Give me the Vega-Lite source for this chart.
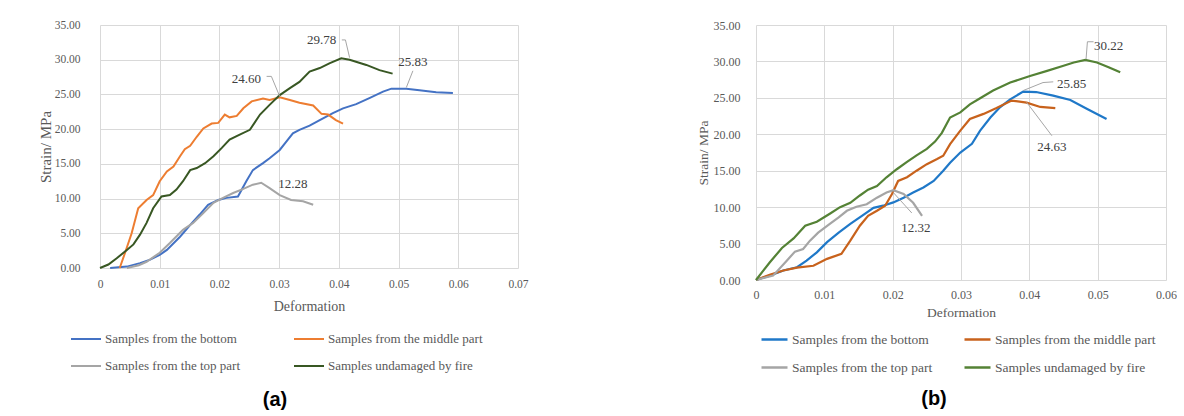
{
  "$schema": "https://vega.github.io/schema/vega-lite/v6.json",
  "background": "white",
  "padding": {"left": 38, "top": 19, "right": 0, "bottom": 0},
  "spacing": 238,
  "bounds": "flush",
  "config": {
    "font": "Liberation Serif",
    "view": {"stroke": null},
    "axis": {"gridColor": "#d9d9d9", "gridWidth": 1, "domain": false, "ticks": false, "labelColor": "#595959", "titleColor": "#595959", "labelFont": "Liberation Serif", "titleFont": "Liberation Serif", "titleFontWeight": "normal", "labelFlush": false, "labelOverlap": false},
    "legend": {"labelFont": "Liberation Serif", "labelColor": "#595959", "symbolType": "stroke", "title": null, "labelLimit": 400, "columns": 2, "direction": "horizontal", "orient": "none"}
  },
  "resolve": {"scale": {"color": "independent"}, "legend": {"color": "independent"}},
  "datasets": {
    "a": [
      {"s": "Samples from the bottom", "d": 0.0017, "v": 0}, {"s": "Samples from the bottom", "d": 0.0045, "v": 0.2}, {"s": "Samples from the bottom", "d": 0.0067, "v": 0.7}, {"s": "Samples from the bottom", "d": 0.0084, "v": 1.2}, {"s": "Samples from the bottom", "d": 0.01, "v": 1.9}, {"s": "Samples from the bottom", "d": 0.0112, "v": 2.6}, {"s": "Samples from the bottom", "d": 0.0134, "v": 4.5}, {"s": "Samples from the bottom", "d": 0.0153, "v": 6.4}, {"s": "Samples from the bottom", "d": 0.0167, "v": 7.7}, {"s": "Samples from the bottom", "d": 0.0181, "v": 9.1}, {"s": "Samples from the bottom", "d": 0.0198, "v": 9.8}, {"s": "Samples from the bottom", "d": 0.0212, "v": 10.1}, {"s": "Samples from the bottom", "d": 0.0231, "v": 10.3}, {"s": "Samples from the bottom", "d": 0.0245, "v": 12.5}, {"s": "Samples from the bottom", "d": 0.0256, "v": 14.1}, {"s": "Samples from the bottom", "d": 0.0273, "v": 15.1}, {"s": "Samples from the bottom", "d": 0.0284, "v": 15.8}, {"s": "Samples from the bottom", "d": 0.0301, "v": 17.0}, {"s": "Samples from the bottom", "d": 0.0312, "v": 18.2}, {"s": "Samples from the bottom", "d": 0.0323, "v": 19.4}, {"s": "Samples from the bottom", "d": 0.0334, "v": 19.9}, {"s": "Samples from the bottom", "d": 0.0351, "v": 20.5}, {"s": "Samples from the bottom", "d": 0.0368, "v": 21.3}, {"s": "Samples from the bottom", "d": 0.039, "v": 22.3}, {"s": "Samples from the bottom", "d": 0.0407, "v": 23.0}, {"s": "Samples from the bottom", "d": 0.0429, "v": 23.6}, {"s": "Samples from the bottom", "d": 0.0452, "v": 24.5}, {"s": "Samples from the bottom", "d": 0.0474, "v": 25.4}, {"s": "Samples from the bottom", "d": 0.0488, "v": 25.83}, {"s": "Samples from the bottom", "d": 0.0513, "v": 25.83}, {"s": "Samples from the bottom", "d": 0.0535, "v": 25.6}, {"s": "Samples from the bottom", "d": 0.0563, "v": 25.3}, {"s": "Samples from the bottom", "d": 0.0591, "v": 25.2},
      {"s": "Samples from the middle part", "d": 0.0033, "v": 0}, {"s": "Samples from the middle part", "d": 0.0042, "v": 2.2}, {"s": "Samples from the middle part", "d": 0.0053, "v": 5.0}, {"s": "Samples from the middle part", "d": 0.0064, "v": 8.6}, {"s": "Samples from the middle part", "d": 0.0078, "v": 9.8}, {"s": "Samples from the middle part", "d": 0.0089, "v": 10.5}, {"s": "Samples from the middle part", "d": 0.01, "v": 12.5}, {"s": "Samples from the middle part", "d": 0.0112, "v": 13.9}, {"s": "Samples from the middle part", "d": 0.0123, "v": 14.6}, {"s": "Samples from the middle part", "d": 0.0134, "v": 16.1}, {"s": "Samples from the middle part", "d": 0.0142, "v": 17.1}, {"s": "Samples from the middle part", "d": 0.0151, "v": 17.6}, {"s": "Samples from the middle part", "d": 0.0162, "v": 18.9}, {"s": "Samples from the middle part", "d": 0.0173, "v": 20.1}, {"s": "Samples from the middle part", "d": 0.0187, "v": 20.8}, {"s": "Samples from the middle part", "d": 0.0198, "v": 20.9}, {"s": "Samples from the middle part", "d": 0.0209, "v": 22.1}, {"s": "Samples from the middle part", "d": 0.0217, "v": 21.7}, {"s": "Samples from the middle part", "d": 0.0229, "v": 21.9}, {"s": "Samples from the middle part", "d": 0.024, "v": 23.0}, {"s": "Samples from the middle part", "d": 0.0254, "v": 24.0}, {"s": "Samples from the middle part", "d": 0.0273, "v": 24.4}, {"s": "Samples from the middle part", "d": 0.0284, "v": 24.2}, {"s": "Samples from the middle part", "d": 0.0301, "v": 24.6}, {"s": "Samples from the middle part", "d": 0.0318, "v": 24.2}, {"s": "Samples from the middle part", "d": 0.0334, "v": 23.8}, {"s": "Samples from the middle part", "d": 0.0357, "v": 23.4}, {"s": "Samples from the middle part", "d": 0.0371, "v": 22.2}, {"s": "Samples from the middle part", "d": 0.0382, "v": 22.1}, {"s": "Samples from the middle part", "d": 0.0395, "v": 21.3}, {"s": "Samples from the middle part", "d": 0.0407, "v": 20.8},
      {"s": "Samples from the top part", "d": 0.0045, "v": 0}, {"s": "Samples from the top part", "d": 0.0065, "v": 0.4}, {"s": "Samples from the top part", "d": 0.0078, "v": 0.9}, {"s": "Samples from the top part", "d": 0.01, "v": 2.2}, {"s": "Samples from the top part", "d": 0.0117, "v": 3.6}, {"s": "Samples from the top part", "d": 0.0139, "v": 5.5}, {"s": "Samples from the top part", "d": 0.0156, "v": 6.5}, {"s": "Samples from the top part", "d": 0.0173, "v": 7.9}, {"s": "Samples from the top part", "d": 0.019, "v": 9.4}, {"s": "Samples from the top part", "d": 0.0206, "v": 10.1}, {"s": "Samples from the top part", "d": 0.0223, "v": 10.8}, {"s": "Samples from the top part", "d": 0.024, "v": 11.4}, {"s": "Samples from the top part", "d": 0.0256, "v": 12.0}, {"s": "Samples from the top part", "d": 0.027, "v": 12.28}, {"s": "Samples from the top part", "d": 0.0284, "v": 11.5}, {"s": "Samples from the top part", "d": 0.0301, "v": 10.5}, {"s": "Samples from the top part", "d": 0.032, "v": 9.8}, {"s": "Samples from the top part", "d": 0.034, "v": 9.6}, {"s": "Samples from the top part", "d": 0.0357, "v": 9.1},
      {"s": "Samples undamaged by fire", "d": 0, "v": 0}, {"s": "Samples undamaged by fire", "d": 0.0014, "v": 0.5}, {"s": "Samples undamaged by fire", "d": 0.0028, "v": 1.4}, {"s": "Samples undamaged by fire", "d": 0.0045, "v": 2.6}, {"s": "Samples undamaged by fire", "d": 0.0056, "v": 3.4}, {"s": "Samples undamaged by fire", "d": 0.0067, "v": 4.8}, {"s": "Samples undamaged by fire", "d": 0.0078, "v": 6.5}, {"s": "Samples undamaged by fire", "d": 0.0089, "v": 8.6}, {"s": "Samples undamaged by fire", "d": 0.0103, "v": 10.3}, {"s": "Samples undamaged by fire", "d": 0.0117, "v": 10.5}, {"s": "Samples undamaged by fire", "d": 0.0128, "v": 11.3}, {"s": "Samples undamaged by fire", "d": 0.0139, "v": 12.5}, {"s": "Samples undamaged by fire", "d": 0.0151, "v": 14.1}, {"s": "Samples undamaged by fire", "d": 0.0162, "v": 14.4}, {"s": "Samples undamaged by fire", "d": 0.0176, "v": 15.1}, {"s": "Samples undamaged by fire", "d": 0.019, "v": 16.1}, {"s": "Samples undamaged by fire", "d": 0.0204, "v": 17.3}, {"s": "Samples undamaged by fire", "d": 0.0217, "v": 18.5}, {"s": "Samples undamaged by fire", "d": 0.0234, "v": 19.2}, {"s": "Samples undamaged by fire", "d": 0.0251, "v": 19.9}, {"s": "Samples undamaged by fire", "d": 0.0268, "v": 22.1}, {"s": "Samples undamaged by fire", "d": 0.0284, "v": 23.5}, {"s": "Samples undamaged by fire", "d": 0.0301, "v": 24.9}, {"s": "Samples undamaged by fire", "d": 0.0318, "v": 25.9}, {"s": "Samples undamaged by fire", "d": 0.0334, "v": 26.8}, {"s": "Samples undamaged by fire", "d": 0.0351, "v": 28.3}, {"s": "Samples undamaged by fire", "d": 0.0368, "v": 28.8}, {"s": "Samples undamaged by fire", "d": 0.0385, "v": 29.5}, {"s": "Samples undamaged by fire", "d": 0.0404, "v": 30.2}, {"s": "Samples undamaged by fire", "d": 0.0418, "v": 30.0}, {"s": "Samples undamaged by fire", "d": 0.0446, "v": 29.25}, {"s": "Samples undamaged by fire", "d": 0.0468, "v": 28.5}, {"s": "Samples undamaged by fire", "d": 0.049, "v": 28.0}
    ],
    "aLabels": [
      {"t": "29.78", "d": 0.0371, "v": 32.85}, {"t": "24.60", "d": 0.0245, "v": 27.2}, {"t": "25.83", "d": 0.0524, "v": 29.7}, {"t": "12.28", "d": 0.0323, "v": 12.1}
    ],
    "aLeaders": [
      {"g": "29.78", "i": 1, "d": 0.0405, "v": 32.85}, {"g": "29.78", "i": 2, "d": 0.0411, "v": 32.85}, {"g": "29.78", "i": 3, "d": 0.0418, "v": 30.3},
      {"g": "24.60", "i": 1, "d": 0.0279, "v": 27.6}, {"g": "24.60", "i": 2, "d": 0.0287, "v": 27.6}, {"g": "24.60", "i": 3, "d": 0.0301, "v": 24.7},
      {"g": "25.83", "i": 1, "d": 0.0524, "v": 28.4}, {"g": "25.83", "i": 2, "d": 0.0513, "v": 26.0}
    ],
    "b": [
      {"s": "Samples from the bottom", "d": 0, "v": 0}, {"s": "Samples from the bottom", "d": 0.002, "v": 0.6}, {"s": "Samples from the bottom", "d": 0.004, "v": 1.3}, {"s": "Samples from the bottom", "d": 0.006, "v": 1.75}, {"s": "Samples from the bottom", "d": 0.0074, "v": 2.65}, {"s": "Samples from the bottom", "d": 0.0089, "v": 3.8}, {"s": "Samples from the bottom", "d": 0.0104, "v": 5.2}, {"s": "Samples from the bottom", "d": 0.0121, "v": 6.5}, {"s": "Samples from the bottom", "d": 0.0138, "v": 7.7}, {"s": "Samples from the bottom", "d": 0.0155, "v": 8.8}, {"s": "Samples from the bottom", "d": 0.0172, "v": 9.9}, {"s": "Samples from the bottom", "d": 0.0186, "v": 10.2}, {"s": "Samples from the bottom", "d": 0.0201, "v": 10.65}, {"s": "Samples from the bottom", "d": 0.0216, "v": 11.3}, {"s": "Samples from the bottom", "d": 0.023, "v": 12.0}, {"s": "Samples from the bottom", "d": 0.0245, "v": 12.7}, {"s": "Samples from the bottom", "d": 0.026, "v": 13.6}, {"s": "Samples from the bottom", "d": 0.0274, "v": 15.0}, {"s": "Samples from the bottom", "d": 0.0284, "v": 16.1}, {"s": "Samples from the bottom", "d": 0.0299, "v": 17.5}, {"s": "Samples from the bottom", "d": 0.0316, "v": 18.7}, {"s": "Samples from the bottom", "d": 0.0328, "v": 20.5}, {"s": "Samples from the bottom", "d": 0.0343, "v": 22.3}, {"s": "Samples from the bottom", "d": 0.0357, "v": 23.7}, {"s": "Samples from the bottom", "d": 0.0372, "v": 24.8}, {"s": "Samples from the bottom", "d": 0.0391, "v": 25.85}, {"s": "Samples from the bottom", "d": 0.041, "v": 25.8}, {"s": "Samples from the bottom", "d": 0.0435, "v": 25.3}, {"s": "Samples from the bottom", "d": 0.046, "v": 24.7}, {"s": "Samples from the bottom", "d": 0.0484, "v": 23.5}, {"s": "Samples from the bottom", "d": 0.0513, "v": 22.1},
      {"s": "Samples from the middle part", "d": 0, "v": 0}, {"s": "Samples from the middle part", "d": 0.002, "v": 0.7}, {"s": "Samples from the middle part", "d": 0.004, "v": 1.3}, {"s": "Samples from the middle part", "d": 0.006, "v": 1.7}, {"s": "Samples from the middle part", "d": 0.0084, "v": 1.95}, {"s": "Samples from the middle part", "d": 0.0104, "v": 2.9}, {"s": "Samples from the middle part", "d": 0.0125, "v": 3.6}, {"s": "Samples from the middle part", "d": 0.0138, "v": 5.4}, {"s": "Samples from the middle part", "d": 0.0152, "v": 7.45}, {"s": "Samples from the middle part", "d": 0.0164, "v": 8.8}, {"s": "Samples from the middle part", "d": 0.0177, "v": 9.5}, {"s": "Samples from the middle part", "d": 0.0189, "v": 10.2}, {"s": "Samples from the middle part", "d": 0.0199, "v": 11.8}, {"s": "Samples from the middle part", "d": 0.0208, "v": 13.6}, {"s": "Samples from the middle part", "d": 0.0221, "v": 14.1}, {"s": "Samples from the middle part", "d": 0.0235, "v": 15.0}, {"s": "Samples from the middle part", "d": 0.025, "v": 15.9}, {"s": "Samples from the middle part", "d": 0.0265, "v": 16.6}, {"s": "Samples from the middle part", "d": 0.0274, "v": 17.05}, {"s": "Samples from the middle part", "d": 0.0284, "v": 18.65}, {"s": "Samples from the middle part", "d": 0.0299, "v": 20.5}, {"s": "Samples from the middle part", "d": 0.0313, "v": 22.1}, {"s": "Samples from the middle part", "d": 0.0333, "v": 22.8}, {"s": "Samples from the middle part", "d": 0.0352, "v": 23.6}, {"s": "Samples from the middle part", "d": 0.0374, "v": 24.63}, {"s": "Samples from the middle part", "d": 0.0396, "v": 24.35}, {"s": "Samples from the middle part", "d": 0.0416, "v": 23.75}, {"s": "Samples from the middle part", "d": 0.0438, "v": 23.6},
      {"s": "Samples from the top part", "d": 0, "v": 0}, {"s": "Samples from the top part", "d": 0.0025, "v": 0.6}, {"s": "Samples from the top part", "d": 0.0045, "v": 2.65}, {"s": "Samples from the top part", "d": 0.0057, "v": 3.9}, {"s": "Samples from the top part", "d": 0.0069, "v": 4.25}, {"s": "Samples from the top part", "d": 0.0079, "v": 5.4}, {"s": "Samples from the top part", "d": 0.0091, "v": 6.5}, {"s": "Samples from the top part", "d": 0.0108, "v": 7.7}, {"s": "Samples from the top part", "d": 0.0121, "v": 8.6}, {"s": "Samples from the top part", "d": 0.0133, "v": 9.5}, {"s": "Samples from the top part", "d": 0.0147, "v": 10.05}, {"s": "Samples from the top part", "d": 0.0162, "v": 10.4}, {"s": "Samples from the top part", "d": 0.0177, "v": 11.3}, {"s": "Samples from the top part", "d": 0.0191, "v": 12.0}, {"s": "Samples from the top part", "d": 0.0201, "v": 12.32}, {"s": "Samples from the top part", "d": 0.0216, "v": 11.8}, {"s": "Samples from the top part", "d": 0.023, "v": 10.6}, {"s": "Samples from the top part", "d": 0.0243, "v": 8.8},
      {"s": "Samples undamaged by fire", "d": 0, "v": 0}, {"s": "Samples undamaged by fire", "d": 0.002, "v": 2.4}, {"s": "Samples undamaged by fire", "d": 0.0038, "v": 4.4}, {"s": "Samples undamaged by fire", "d": 0.0055, "v": 5.7}, {"s": "Samples undamaged by fire", "d": 0.0072, "v": 7.45}, {"s": "Samples undamaged by fire", "d": 0.0089, "v": 8.0}, {"s": "Samples undamaged by fire", "d": 0.0108, "v": 9.1}, {"s": "Samples undamaged by fire", "d": 0.0123, "v": 10.0}, {"s": "Samples undamaged by fire", "d": 0.0138, "v": 10.6}, {"s": "Samples undamaged by fire", "d": 0.0152, "v": 11.6}, {"s": "Samples undamaged by fire", "d": 0.0164, "v": 12.4}, {"s": "Samples undamaged by fire", "d": 0.0177, "v": 12.9}, {"s": "Samples undamaged by fire", "d": 0.0191, "v": 14.1}, {"s": "Samples undamaged by fire", "d": 0.0206, "v": 15.2}, {"s": "Samples undamaged by fire", "d": 0.0221, "v": 16.2}, {"s": "Samples undamaged by fire", "d": 0.0235, "v": 17.1}, {"s": "Samples undamaged by fire", "d": 0.025, "v": 18.0}, {"s": "Samples undamaged by fire", "d": 0.0262, "v": 19.0}, {"s": "Samples undamaged by fire", "d": 0.0272, "v": 20.2}, {"s": "Samples undamaged by fire", "d": 0.0284, "v": 22.3}, {"s": "Samples undamaged by fire", "d": 0.0299, "v": 23.0}, {"s": "Samples undamaged by fire", "d": 0.0313, "v": 24.1}, {"s": "Samples undamaged by fire", "d": 0.0328, "v": 24.95}, {"s": "Samples undamaged by fire", "d": 0.0347, "v": 26.0}, {"s": "Samples undamaged by fire", "d": 0.0372, "v": 27.1}, {"s": "Samples undamaged by fire", "d": 0.0401, "v": 28.0}, {"s": "Samples undamaged by fire", "d": 0.0426, "v": 28.7}, {"s": "Samples undamaged by fire", "d": 0.045, "v": 29.4}, {"s": "Samples undamaged by fire", "d": 0.0465, "v": 29.85}, {"s": "Samples undamaged by fire", "d": 0.0482, "v": 30.22}, {"s": "Samples undamaged by fire", "d": 0.0499, "v": 29.85}, {"s": "Samples undamaged by fire", "d": 0.0516, "v": 29.2}, {"s": "Samples undamaged by fire", "d": 0.0533, "v": 28.5}
    ],
    "bLabels": [
      {"t": "30.22", "d": 0.0516, "v": 32.1}, {"t": "25.85", "d": 0.0462, "v": 26.9}, {"t": "24.63", "d": 0.0433, "v": 18.2}, {"t": "12.32", "d": 0.0234, "v": 7.1}
    ],
    "bLeaders": [
      {"g": "30.22", "i": 1, "d": 0.0494, "v": 32.7}, {"g": "30.22", "i": 2, "d": 0.0485, "v": 32.7}, {"g": "30.22", "i": 3, "d": 0.0483, "v": 30.3},
      {"g": "25.85", "i": 1, "d": 0.0435, "v": 27.2}, {"g": "25.85", "i": 2, "d": 0.042, "v": 27.1}, {"g": "25.85", "i": 3, "d": 0.0391, "v": 26.0},
      {"g": "24.63", "i": 1, "d": 0.0433, "v": 19.8}, {"g": "24.63", "i": 2, "d": 0.0396, "v": 24.4},
      {"g": "12.32", "i": 1, "d": 0.0228, "v": 9.2}, {"g": "12.32", "i": 2, "d": 0.0201, "v": 12.0}
    ]
  },
  "hconcat": [
    {
      "width": 418,
      "height": 243,
      "title": {"text": "(a)", "orient": "bottom", "frame": "group", "anchor": "middle", "offset": 17, "dx": -34, "font": "Liberation Sans", "fontSize": 20, "fontWeight": "bold", "color": "black"},
      "encoding": {
        "x": {"field": "d", "type": "quantitative", "scale": {"domain": [0, 0.07], "nice": false}, "axis": {"values": [0, 0.01, 0.02, 0.03, 0.04, 0.05, 0.06, 0.07], "format": "~g", "title": "Deformation", "labelFontSize": 11.5, "labelPadding": 10, "titleFontSize": 14, "titlePadding": 10}},
        "y": {"field": "v", "type": "quantitative", "scale": {"domain": [0, 35], "nice": false}, "axis": {"values": [0, 5, 10, 15, 20, 25, 30, 35], "format": ".2f", "title": "Strain/ MPa", "labelFontSize": 11.5, "labelPadding": 20, "titleFontSize": 15, "titlePadding": 1}}
      },
      "layer": [
        {
          "data": {"name": "a"},
          "mark": {"type": "line", "strokeWidth": 2},
          "encoding": {
            "color": {"field": "s", "type": "nominal", "scale": {"domain": ["Samples from the bottom", "Samples from the middle part", "Samples from the top part", "Samples undamaged by fire"], "range": ["#4472C4", "#ED7D31", "#A5A5A5", "#385723"]}, "legend": {"legendX": -30, "legendY": 298, "symbolSize": 900, "symbolStrokeWidth": 2, "labelFontSize": 13, "labelOffset": 3, "columnPadding": 49, "rowPadding": 4}}
          }
        },
        {
          "data": {"name": "aLeaders"},
          "mark": {"type": "line", "color": "#a6a6a6", "strokeWidth": 1},
          "encoding": {"detail": {"field": "g"}, "order": {"field": "i"}}
        },
        {
          "data": {"name": "aLabels"},
          "mark": {"type": "text", "font": "Liberation Serif", "fontSize": 13, "color": "#404040", "align": "center", "baseline": "middle"},
          "encoding": {"text": {"field": "t"}}
        }
      ]
    },
    {
      "width": 410,
      "height": 255,
      "title": {"text": "(b)", "orient": "bottom", "frame": "group", "anchor": "middle", "offset": 15, "dx": -27, "font": "Liberation Sans", "fontSize": 20, "fontWeight": "bold", "color": "black"},
      "encoding": {
        "x": {"field": "d", "type": "quantitative", "scale": {"domain": [0, 0.06], "nice": false}, "axis": {"values": [0, 0.01, 0.02, 0.03, 0.04, 0.05, 0.06], "format": "~g", "title": "Deformation", "labelFontSize": 12, "labelPadding": 9, "titleFontSize": 13.5, "titlePadding": 5}},
        "y": {"field": "v", "type": "quantitative", "scale": {"domain": [0, 35], "nice": false}, "axis": {"values": [0, 5, 10, 15, 20, 25, 30, 35], "format": ".2f", "title": "Strain/ MPa", "labelFontSize": 12, "labelPadding": 16, "titleFontSize": 13.5, "titlePadding": 3}}
      },
      "layer": [
        {
          "data": {"name": "b"},
          "mark": {"type": "line", "strokeWidth": 2.2},
          "encoding": {
            "color": {"field": "s", "type": "nominal", "scale": {"domain": ["Samples from the bottom", "Samples from the middle part", "Samples from the top part", "Samples undamaged by fire"], "range": ["#1F78C8", "#C8621C", "#A5A5A5", "#548235"]}, "legend": {"legendX": 4, "legendY": 300, "symbolSize": 676, "symbolStrokeWidth": 2.5, "labelFontSize": 13.5, "labelOffset": 3, "columnPadding": 26, "rowPadding": 7}}
          }
        },
        {
          "data": {"name": "bLeaders"},
          "mark": {"type": "line", "color": "#a6a6a6", "strokeWidth": 1},
          "encoding": {"detail": {"field": "g"}, "order": {"field": "i"}}
        },
        {
          "data": {"name": "bLabels"},
          "mark": {"type": "text", "font": "Liberation Serif", "fontSize": 13, "color": "#404040", "align": "center", "baseline": "middle"},
          "encoding": {"text": {"field": "t"}}
        }
      ]
    }
  ]
}
